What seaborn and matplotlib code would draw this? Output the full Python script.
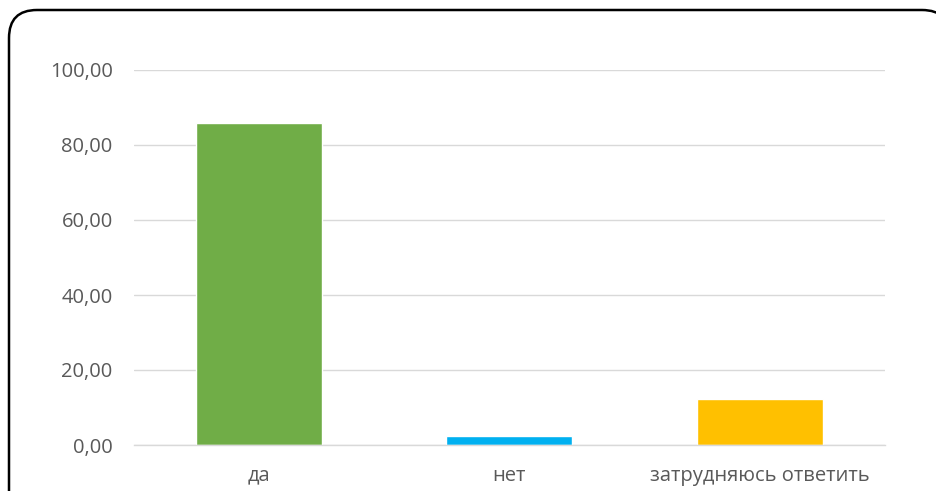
import matplotlib
matplotlib.use("Agg")
import matplotlib.pyplot as plt
import seaborn as sns
import pandas as pd
from matplotlib.patches import PathPatch
from matplotlib.path import Path
from matplotlib.ticker import FuncFormatter

categories = ["да", "нет", "затрудняюсь ответить"]
values = [85.9, 2.4, 12.2]
colors = ["#70AD47", "#00B0F0", "#FFC000"]

sns.set_theme(style="white")
plt.rcParams['font.family'] = ['Open Sans', 'DejaVu Sans']

W, H = 937, 491
fig = plt.figure(figsize=(W / 100, H / 100), dpi=100)
ax = fig.add_axes([133.5 / W, (H - 445) / H, 751.5 / W, 375 / H])

df = pd.DataFrame({"cat": categories, "val": values})
sns.barplot(data=df, x="cat", y="val", hue="cat", palette=colors, width=0.503,
            saturation=1, legend=False, ax=ax)

ax.set_ylim(0, 100)
ax.set_yticks([0, 20, 40, 60, 80, 100])
ax.yaxis.set_major_formatter(FuncFormatter(lambda v, p: f"{v:.2f}".replace(".", ",")))
ax.grid(axis="y", color="#D9D9D9", linewidth=1)
ax.set_axisbelow(True)
for s in ["top", "right", "left"]:
    ax.spines[s].set_visible(False)
ax.spines["bottom"].set_color("#D9D9D9")
ax.spines["bottom"].set_linewidth(1)
ax.set_xlabel("")
ax.set_ylabel("")
ax.tick_params(axis="both", length=0, labelsize=14.5, labelcolor="#595959")
ax.tick_params(axis="y", pad=15)
ax.tick_params(axis="x", pad=15)

# rounded chart border in pixel coords (top-left origin), right/bottom outside image
x0, top, x1, bot, r = 9, 10, 950, 520, 28
pts_px = [(x0, bot), (x0, top + r), (x0, top), (x0 + r, top),
          (x1 - r, top), (x1, top), (x1, top + r), (x1, bot)]
codes = [Path.MOVETO, Path.LINETO, Path.CURVE3, Path.CURVE3,
         Path.LINETO, Path.CURVE3, Path.CURVE3, Path.LINETO]
pts = [(px / W, 1 - py / H) for px, py in pts_px]
border = PathPatch(Path(pts, codes), transform=fig.transFigure, fill=False,
                   edgecolor="black", linewidth=1.8, clip_on=False)
fig.patches.append(border)

fig.savefig("out.png", dpi=100)
